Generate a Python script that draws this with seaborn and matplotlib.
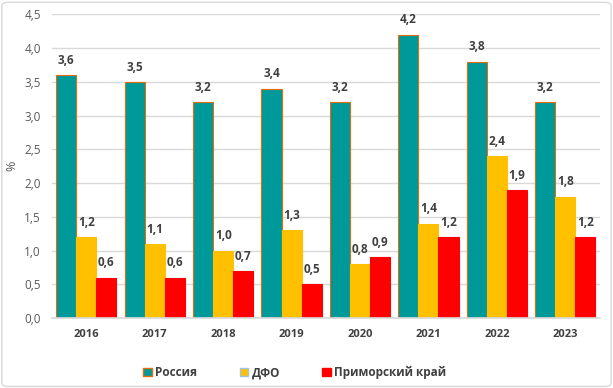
import seaborn as sns
import pandas as pd
import matplotlib.pyplot as plt
from matplotlib.patches import FancyBboxPatch

years = ["2016", "2017", "2018", "2019", "2020", "2021", "2022", "2023"]
russia = [3.6, 3.5, 3.2, 3.4, 3.2, 4.2, 3.8, 3.2]
dfo = [1.2, 1.1, 1.0, 1.3, 0.8, 1.4, 2.4, 1.8]
primorye = [0.6, 0.6, 0.7, 0.5, 0.9, 1.2, 1.9, 1.2]
series_names = ["Россия", "ДФО", "Приморский край"]

colors = ["#009999", "#FFC000", "#FF0000"]
bar_edges = ["#E46C0A", "#FFC000", "#FF0000"]
legend_edges = ["#E46C0A", "#9DC3E6", "#FF0000"]

df = pd.DataFrame({
    "year": years * 3,
    "value": russia + dfo + primorye,
    "series": [series_names[0]] * 8 + [series_names[1]] * 8 + [series_names[2]] * 8,
})

sns.set_theme(style="white")
plt.rcParams["font.family"] = ["Open Sans", "DejaVu Sans"]

fig = plt.figure(figsize=(6.13, 3.88), dpi=100)
ax = fig.add_axes([0.085, 0.18, 0.893, 0.783])

sns.barplot(ax=ax, data=df, x="year", y="value", hue="series", palette=colors,
            width=0.88, saturation=1, legend=True)

for i, cont in enumerate(ax.containers):
    for p in cont.patches:
        p.set_edgecolor(bar_edges[i])
        p.set_linewidth(0.8)
    ax.bar_label(cont, labels=[f"{v:.1f}".replace(".", ",") for v in cont.datavalues],
                 padding=6, fontsize=8.5, fontweight="bold", color="#404040")

ax.set_ylim(0, 4.5)
ax.set_yticks([i * 0.5 for i in range(10)])
ax.set_yticklabels([f"{i * 0.5:.1f}".replace(".", ",") for i in range(10)],
                   fontsize=8.5, color="#595959")
ax.set_xticks(range(8))
ax.set_xticklabels(years, fontsize=8, fontweight="bold", color="#404040")
ax.tick_params(axis="both", length=0, pad=8)
ax.set_xlabel("")
ax.set_ylabel("%", fontsize=9, color="#595959")
ax.grid(axis="y", color="#D9D9D9", linewidth=1)
ax.set_axisbelow(True)
for s in ["top", "right", "left"]:
    ax.spines[s].set_visible(False)
ax.spines["bottom"].set_color("#D9D9D9")
ax.set_xlim(-0.5, 7.5)

handles, labels = ax.get_legend_handles_labels()
for h, e in zip(handles, legend_edges):
    h.set_edgecolor(e)
    h.set_linewidth(1.0)
ax.legend(handles, labels, loc="center", bbox_to_anchor=(0.481, 0.04),
          bbox_transform=fig.transFigure, ncol=3,
          frameon=False, handlelength=0.7, handleheight=0.7,
          columnspacing=3.6, handletextpad=0.3, labelcolor="#404040",
          prop={"weight": "bold", "size": 8.5})

fig.patches.append(FancyBboxPatch((0.003, 0.004), 0.994, 0.99, boxstyle="round,pad=0,rounding_size=0.01",
                                  transform=fig.transFigure, fill=False, edgecolor="#D9D9D9", linewidth=1))

fig.savefig("out.png", dpi=100)
